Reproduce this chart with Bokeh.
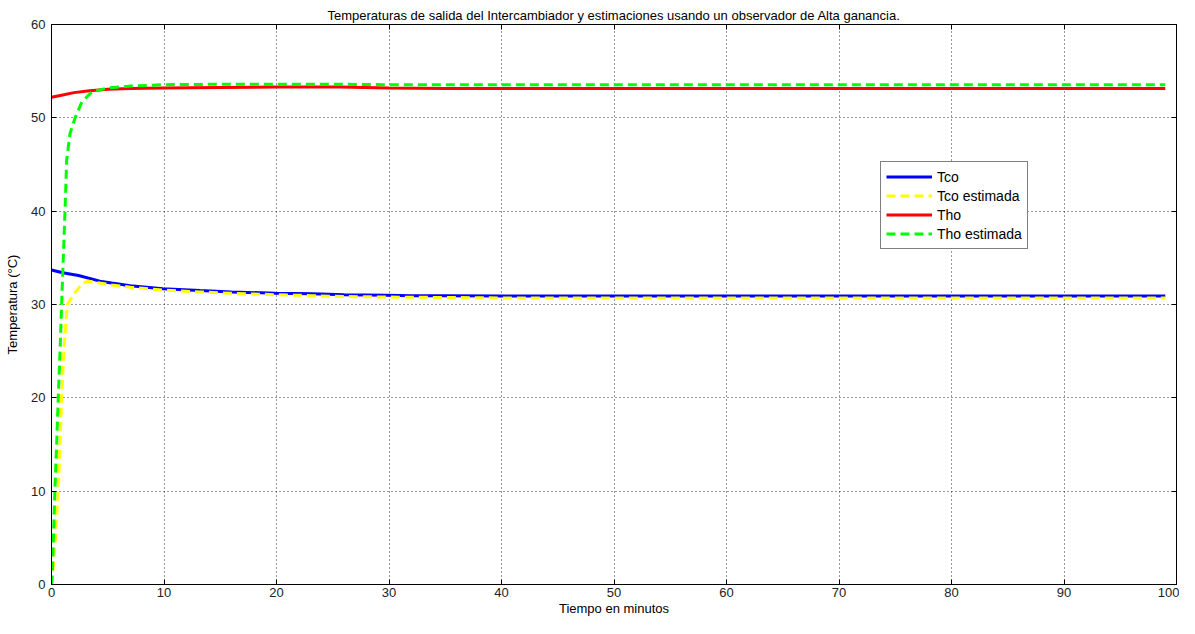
from bokeh.plotting import figure
from bokeh.models import Range1d, LinearAxis, Legend, LegendItem, FixedTicker
from bokeh.embed import file_html
from bokeh.resources import INLINE

# ---- data ----
t_tco = [0, 1, 2.4, 4.3, 5.35, 7, 9.9, 13.2, 16, 19.9, 23.2, 26, 29.8, 32, 35.1, 40, 50, 60, 70,
         80, 90, 99]
tco = [33.7, 33.4, 33.1, 32.5, 32.3, 32.0, 31.7, 31.5, 31.35, 31.2, 31.15, 31.05, 31.0, 30.95,
       30.95, 30.9, 30.9, 30.9, 30.9, 30.9, 30.9, 30.9]

t_tco_est = [0, 0.1, 0.35, 0.6, 0.76, 0.9, 1.1, 1.4, 2.1, 2.8, 3.3, 4.3, 5.35, 7, 9.9, 13.2, 16,
             19.9, 23.2, 26, 29.8, 35.1, 40, 50, 60, 70, 80, 90, 99]
tco_est = [0, 1, 5, 10, 15, 20, 25, 30, 31.3, 32.3, 32.5, 32.3, 32.1, 31.85, 31.55, 31.35, 31.2,
           31.05, 30.95, 30.85, 30.8, 30.75, 30.7, 30.7, 30.7, 30.7, 30.7, 30.7, 30.7]

t_tho = [0, 1, 2, 3.4, 5, 7, 9.9, 15, 20, 25.6, 30, 35, 40, 50, 60, 70, 80, 90, 99]
tho = [52.2, 52.45, 52.7, 52.9, 53.05, 53.15, 53.2, 53.25, 53.3, 53.3, 53.2, 53.15, 53.15, 53.15,
       53.15, 53.15, 53.15, 53.15, 53.15]

t_tho_est = [0, 0.07, 0.3, 0.46, 0.6, 0.76, 0.9, 1.05, 1.2, 1.35, 1.64, 2.1, 2.7, 3.6, 5, 7, 9.9,
             15, 20, 25.6, 30, 40, 50, 60, 70, 80, 90, 99]
tho_est = [0, 1, 10, 15, 20, 25, 30, 35, 40, 45.5, 48.3, 50, 51.7, 52.8, 53.2, 53.4, 53.55, 53.6,
           53.6, 53.6, 53.55, 53.55, 53.55, 53.55, 53.55, 53.55, 53.55, 53.55]

x_ticks = [0, 10, 20, 30, 40, 50, 60, 70, 80, 90, 100]
y_ticks = [0, 10, 20, 30, 40, 50, 60]

title = "Temperaturas de salida del Intercambiador y estimaciones usando un observador de Alta ganancia."
xlabel = "Tiempo en minutos"
ylabel = "Temperatura (°C)"

FONT = "Liberation Sans"

p = figure(width=1179, height=618, output_backend="svg", toolbar_location=None,
           x_range=Range1d(0, 100), y_range=Range1d(0, 60), title=title,
           min_border_left=51, min_border_right=3, min_border_top=24, min_border_bottom=30)

p.title.text_font = FONT
p.title.text_font_size = "13px"
p.title.text_font_style = "normal"
p.title.align = "center"
p.title.text_color = "#000000"
p.title.standoff = 4

p.background_fill_color = "white"
p.border_fill_color = "white"
p.outline_line_color = "#000000"
p.outline_line_width = 1

for ax, ticks in ((p.xaxis[0], x_ticks), (p.yaxis[0], y_ticks)):
    ax.ticker = FixedTicker(ticks=ticks)
    ax.major_tick_in = 5
    ax.major_tick_out = 0
    ax.minor_tick_line_color = None
    ax.axis_line_color = "#000000"
    ax.major_tick_line_color = "#000000"
    ax.major_label_text_font = FONT
    ax.major_label_text_font_size = "13px"
    ax.major_label_text_color = "#222222"
    ax.axis_label_text_font = FONT
    ax.axis_label_text_font_size = "13px"
    ax.axis_label_text_font_style = "normal"
    ax.axis_label_text_color = "#000000"

p.xaxis.axis_label = xlabel
p.yaxis.axis_label = ylabel
p.xaxis.major_label_standoff = 3
p.xaxis.axis_label_standoff = 1
p.yaxis.major_label_standoff = 6
p.yaxis.axis_label_standoff = 8

for loc, ticks in (("right", y_ticks), ("above", x_ticks)):
    ax = LinearAxis(ticker=FixedTicker(ticks=ticks))
    ax.major_tick_in = 5
    ax.major_tick_out = 0
    ax.minor_tick_line_color = None
    ax.major_label_text_font_size = "0px"
    ax.major_label_standoff = 0
    ax.axis_line_color = "#000000"
    ax.major_tick_line_color = "#000000"
    p.add_layout(ax, loc)

p.xgrid.ticker = FixedTicker(ticks=x_ticks)
p.ygrid.ticker = FixedTicker(ticks=y_ticks)
for g in (p.xgrid, p.ygrid):
    g.grid_line_color = "#000000"
    g.grid_line_dash = "1 3"
    g.grid_line_width = 1
    g.grid_line_alpha = 0.8

r1 = p.line(t_tco, tco, line_color="#0000ff", line_width=3)
r2 = p.line(t_tco_est, tco_est, line_color="#ffff00", line_width=3, line_dash="9 5")
r3 = p.line(t_tho, tho, line_color="#ff0000", line_width=3)
r4 = p.line(t_tho_est, tho_est, line_color="#00ff00", line_width=3, line_dash="9 5")

legend = Legend(items=[
    LegendItem(label="Tco", renderers=[r1]),
    LegendItem(label="Tco estimada", renderers=[r2]),
    LegendItem(label="Tho", renderers=[r3]),
    LegendItem(label="Tho estimada", renderers=[r4]),
], location=(829, 335))
legend.label_text_font = FONT
legend.label_text_font_size = "14px"
legend.label_text_color = "#000000"
legend.label_height = 19
legend.glyph_height = 19
legend.glyph_width = 46
legend.label_standoff = 5
legend.spacing = 0
legend.padding = 5
legend.margin = 0
legend.border_line_color = "#000000"
legend.border_line_width = 1
legend.background_fill_color = "white"
legend.background_fill_alpha = 1
p.add_layout(legend, "center")

open("out.html", "w").write(file_html(p, INLINE))
